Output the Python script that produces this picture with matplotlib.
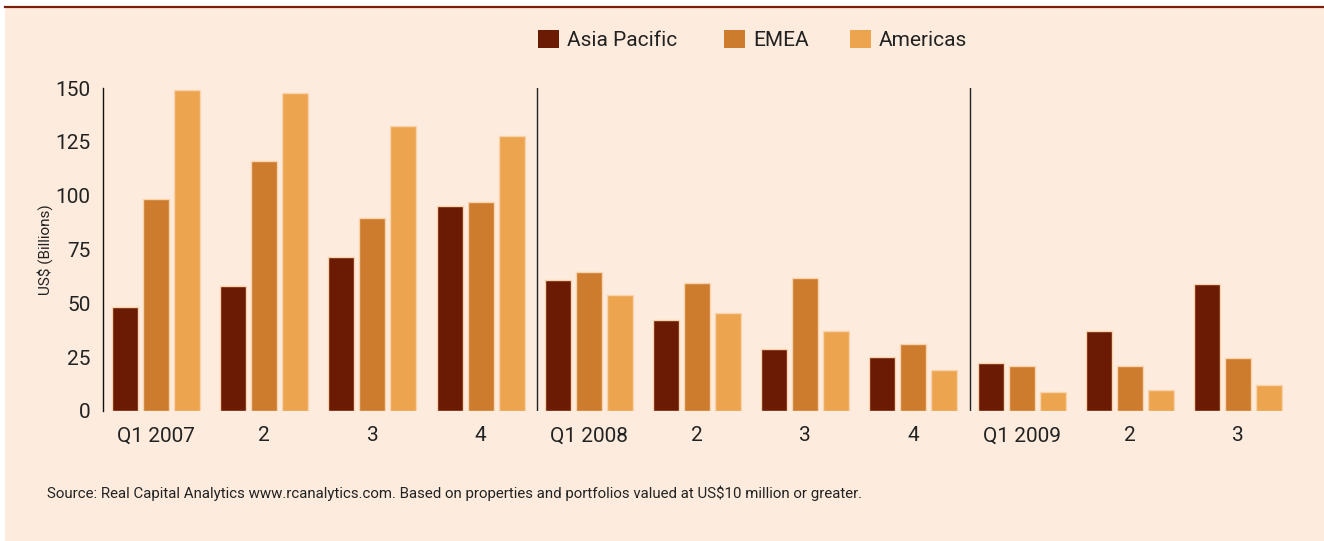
import matplotlib
matplotlib.use("Agg")
import matplotlib.pyplot as plt
from matplotlib.patches import Rectangle, Patch
from matplotlib.lines import Line2D
import numpy as np

plt.rcParams['font.family'] = ['Roboto', 'DejaVu Sans']

quarters = ["Q1 2007", "2", "3", "4", "Q1 2008", "2", "3", "4", "Q1 2009", "2", "3"]
asia_pacific = [48.3, 58, 71.5, 95.2, 60.8, 42.3, 28.8, 25, 22.3, 37.2, 59]
emea = [98.5, 116, 89.6, 97, 64.6, 59.5, 61.8, 31, 21, 21, 24.6]
americas = [149, 147.7, 132.4, 127.7, 53.9, 45.5, 37.2, 19, 8.8, 9.7, 12]
series_names = ["Asia Pacific", "EMEA", "Americas"]
colors = ["#6B1A04", "#CD7B2D", "#EDA44E"]
yticks = [0, 25, 50, 75, 100, 125, 150]
source = "Source: Real Capital Analytics www.rcanalytics.com. Based on properties and portfolios valued at US$10 million or greater."

W, H = 1324, 541
fig = plt.figure(figsize=(W / 100, H / 100), dpi=100)
fig.patch.set_facecolor("white")
bg = "#FDECDD"
fig.patches.append(Rectangle((5 / W, 0), 1 - 5 / W, (H - 7) / H, transform=fig.transFigure,
                             facecolor=bg, edgecolor="none", zorder=-10))
fig.lines.append(Line2D([5 / W, 1], [(H - 6.5) / H] * 2, transform=fig.transFigure,
                        color="#7B1E0A", lw=1.6, zorder=-9))

ax_l, ax_r, ax_t, ax_b = 103, 1292, 88, 411
ax = fig.add_axes([ax_l / W, (H - ax_b) / H, (ax_r - ax_l) / W, (ax_b - ax_t) / H])
ax.set_facecolor("none")
ax.set_zorder(5)

x = np.arange(len(quarters))
step = 31 / 108.2
bw = 26 / 108.2
for k, (vals, c, name) in enumerate(zip([asia_pacific, emea, americas], colors, series_names)):
    ax.bar(x + (k - 1) * step, vals, width=bw, color=c, edgecolor="#F8D3AE", linewidth=1.0,
           label=name, zorder=2)

ax.set_xlim(-0.49, len(quarters) - 0.5)
ax.set_ylim(0, 150)
for sep in [3.5, 7.5]:
    ax.axvline(sep + 0.025, color="#222222", lw=1.0, zorder=3)

for s in ["top", "right", "bottom"]:
    ax.spines[s].set_visible(False)
ax.spines["left"].set_color("#111111")
ax.spines["left"].set_linewidth(1.0)
ax.set_yticks(yticks)
ax.set_yticklabels([str(v) for v in yticks])
ax.set_xticks(x)
ax.set_xticklabels(quarters)
ax.tick_params(axis="both", length=0, labelsize=15, colors="#222222")
ax.tick_params(axis="y", pad=9)
ax.tick_params(axis="x", pad=11)
fig.text(45 / W, (H - 250) / H, "US$ (Billions)", fontsize=11, color="#222222",
         rotation=90, ha="center", va="center")

legend_x = [538, 724, 850]
for name, c, lx in zip(series_names, colors, legend_x):
    fig.legend(handles=[Patch(facecolor=c, edgecolor="none", label=name)],
               loc="center left", bbox_to_anchor=(lx / W, (H - 40) / H),
               frameon=False, fontsize=15, handlelength=1.0, handleheight=1.0,
               handletextpad=0.4, borderpad=0, borderaxespad=0, labelcolor="#222222")

fig.text(47 / W, (H - 493) / H, source, fontsize=10.8, color="#222222", va="center", ha="left")

fig.savefig("out.png", dpi=100, facecolor=fig.get_facecolor())
